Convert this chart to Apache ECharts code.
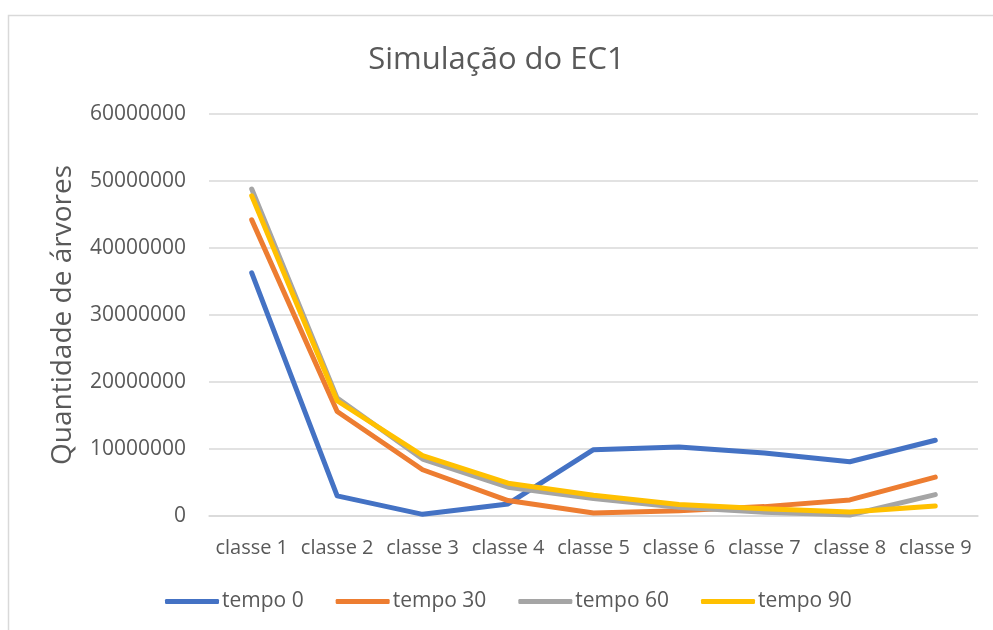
<!DOCTYPE html>
<html><head><meta charset="utf-8">
<script src="https://cdn.jsdelivr.net/npm/echarts@6/dist/echarts.min.js"></script>
<style>html,body{margin:0;padding:0;background:#fff}#c{width:993px;height:630px}</style>
</head><body><div id="c"></div>
<script>
const categories = ['classe 1','classe 2','classe 3','classe 4','classe 5','classe 6','classe 7','classe 8','classe 9'];
const tempo0  = [36300000, 3000000, 250000, 1800000, 9900000, 10300000, 9400000, 8100000, 11300000];
const tempo30 = [44200000, 15600000, 6900000, 2300000, 450000, 800000, 1400000, 2400000, 5800000];
const tempo60 = [48800000, 17600000, 8500000, 4300000, 2600000, 1300000, 550000, 150000, 3200000];
const tempo90 = [47800000, 17200000, 9000000, 4900000, 3100000, 1700000, 1100000, 600000, 1500000];
const seriesNames = ['tempo 0','tempo 30','tempo 60','tempo 90'];
const colors = ['#4472C4','#ED7D31','#A5A5A5','#FFC000'];
const yTicks = [0, 10000000, 20000000, 30000000, 40000000, 50000000, 60000000];

const FONT = 'Open Sans';
const chart = echarts.init(document.getElementById('c'));
const data = [tempo0, tempo30, tempo60, tempo90];
chart.setOption({
  animation: false,
  backgroundColor: '#fff',
  textStyle: {fontFamily: FONT},
  graphic: [{type:'rect', shape:{x:8.5,y:15.5,width:1000,height:640}, style:{fill:'none', stroke:'#d9d9d9', lineWidth:1.5}, silent:true}],
  title: {text:'Simulação do EC1', left:'center', top:40,
    textStyle:{fontFamily:FONT, fontSize:31, fontWeight:'normal', color:'#595959'}},
  legend: {bottom:13, left:160, itemWidth:54, itemHeight:5, itemGap:32,
    icon:'roundRect',
    textStyle:{fontFamily:FONT, fontSize:21, color:'#595959', padding:[0,0,0,-2]},
    data: seriesNames.map(n=>({name:n}))},
  grid: {left:209, right:15, top:114, bottom:114, containLabel:false},
  xAxis: {type:'category', data:categories, boundaryGap:true,
    axisLine:{lineStyle:{color:'#d9d9d9', width:1.5}},
    axisTick:{show:false},
    axisLabel:{fontFamily:FONT, fontSize:20, color:'#595959', margin:22, interval:0}},
  yAxis: {type:'value', min:yTicks[0], max:yTicks[yTicks.length-1], interval:10000000,
    name:'Quantidade de árvores', nameLocation:'middle', nameGap:132, nameRotate:90,
    nameTextStyle:{fontFamily:FONT, fontSize:28, color:'#595959'},
    axisLine:{show:false}, axisTick:{show:false},
    axisLabel:{fontFamily:FONT, fontSize:21, color:'#595959', margin:23, formatter:v=>String(v)},
    splitLine:{lineStyle:{color:'#d9d9d9', width:1.5}}},
  series: seriesNames.map((n,i)=>({name:n, type:'line', data:data[i], symbol:'none',
    lineStyle:{color:colors[i], width:5, cap:'round', join:'round'},
    itemStyle:{color:colors[i]}}))
});
</script></body></html>
